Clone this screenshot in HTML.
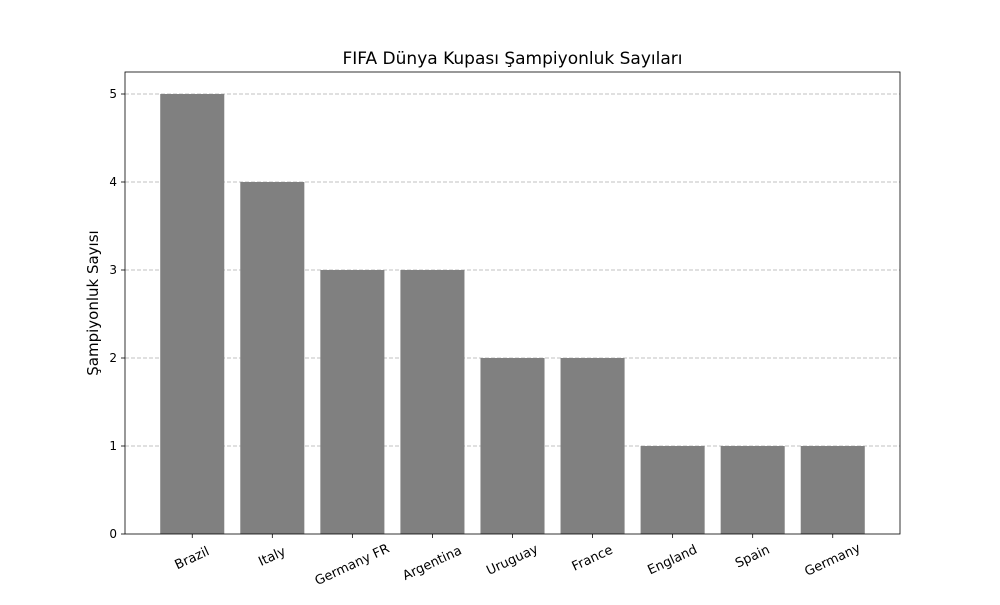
<!DOCTYPE html>
<html><head><meta charset="utf-8"><style>
body{margin:0;background:#fff;font-family:"Liberation Sans","DejaVu Sans",sans-serif}
svg text{font-family:"DejaVu Sans","Liberation Sans",sans-serif}
</style></head><body>
<svg id="c" width="1000" height="600" xmlns="http://www.w3.org/2000/svg"></svg>
<script>
const categories=["Brazil","Italy","Germany FR","Argentina","Uruguay","France","England","Spain","Germany"];
const values=[5,4,3,3,2,2,1,1,1];
const yTicks=[0,1,2,3,4,5];
const NS="http://www.w3.org/2000/svg";
const svg=document.getElementById('c');
const L=125,R=900,T=72,B=534;
const xmin=-0.84,xmax=categories.length-1+0.84,ymax=5.25;
const xs=v=>L+(v-xmin)/(xmax-xmin)*(R-L);
const ys=v=>B-v/ymax*(B-T);
function mk(t,a,txt){const e=document.createElementNS(NS,t);for(const k in a)e.setAttribute(k,a[k]);if(txt!==undefined)e.textContent=txt;svg.appendChild(e);return e;}
yTicks.forEach(t=>{
  if(t>0){const g=mk('line',{x1:L,x2:R,y1:ys(t),y2:ys(t),stroke:'#c0c0c0','stroke-width':1,'stroke-dasharray':'4,2'});
  
  }
  const tk=mk('line',{x1:L-4,x2:L,y1:ys(t),y2:ys(t),stroke:'#000','stroke-width':0.8});
  
  
  const lb=mk('text',{x:L-8,y:ys(t)+4,'text-anchor':'end','font-size':12},t);
  
  
});
categories.forEach((c,i)=>{
  const x0=xs(i-0.4),x1=xs(i+0.4);
  const r=mk('rect',{x:x0,y:ys(values[i]),width:x1-x0,height:ys(0)-ys(values[i]),fill:'#808080'});
  
  
  const cx=xs(i);
  const tk=mk('line',{x1:cx,x2:cx,y1:B,y2:B+4,stroke:'#000','stroke-width':0.8});
  
  
  const w=c.length*7.8;
  const cy=B+8+ (w*Math.sin(25*Math.PI/180)+15*Math.cos(25*Math.PI/180))/2;
  const lb=mk('text',{x:cx,y:cy,'text-anchor':'middle','dominant-baseline':'central','font-size':13,transform:`rotate(-25 ${cx} ${cy})`},c);
  
  
});
const fr=mk('rect',{x:L,y:T,width:R-L,height:B-T,fill:'none',stroke:'#000','stroke-width':0.8});


const ti=mk('text',{x:(L+R)/2,y:64,'text-anchor':'middle','font-size':17},'FIFA Dünya Kupası Şampiyonluk Sayıları');


const yt=mk('text',{x:98,y:(T+B)/2,'text-anchor':'middle','font-size':15,transform:`rotate(-90 98 ${(T+B)/2})`},'Şampiyonluk Sayısı');


</script>
</body></html>
